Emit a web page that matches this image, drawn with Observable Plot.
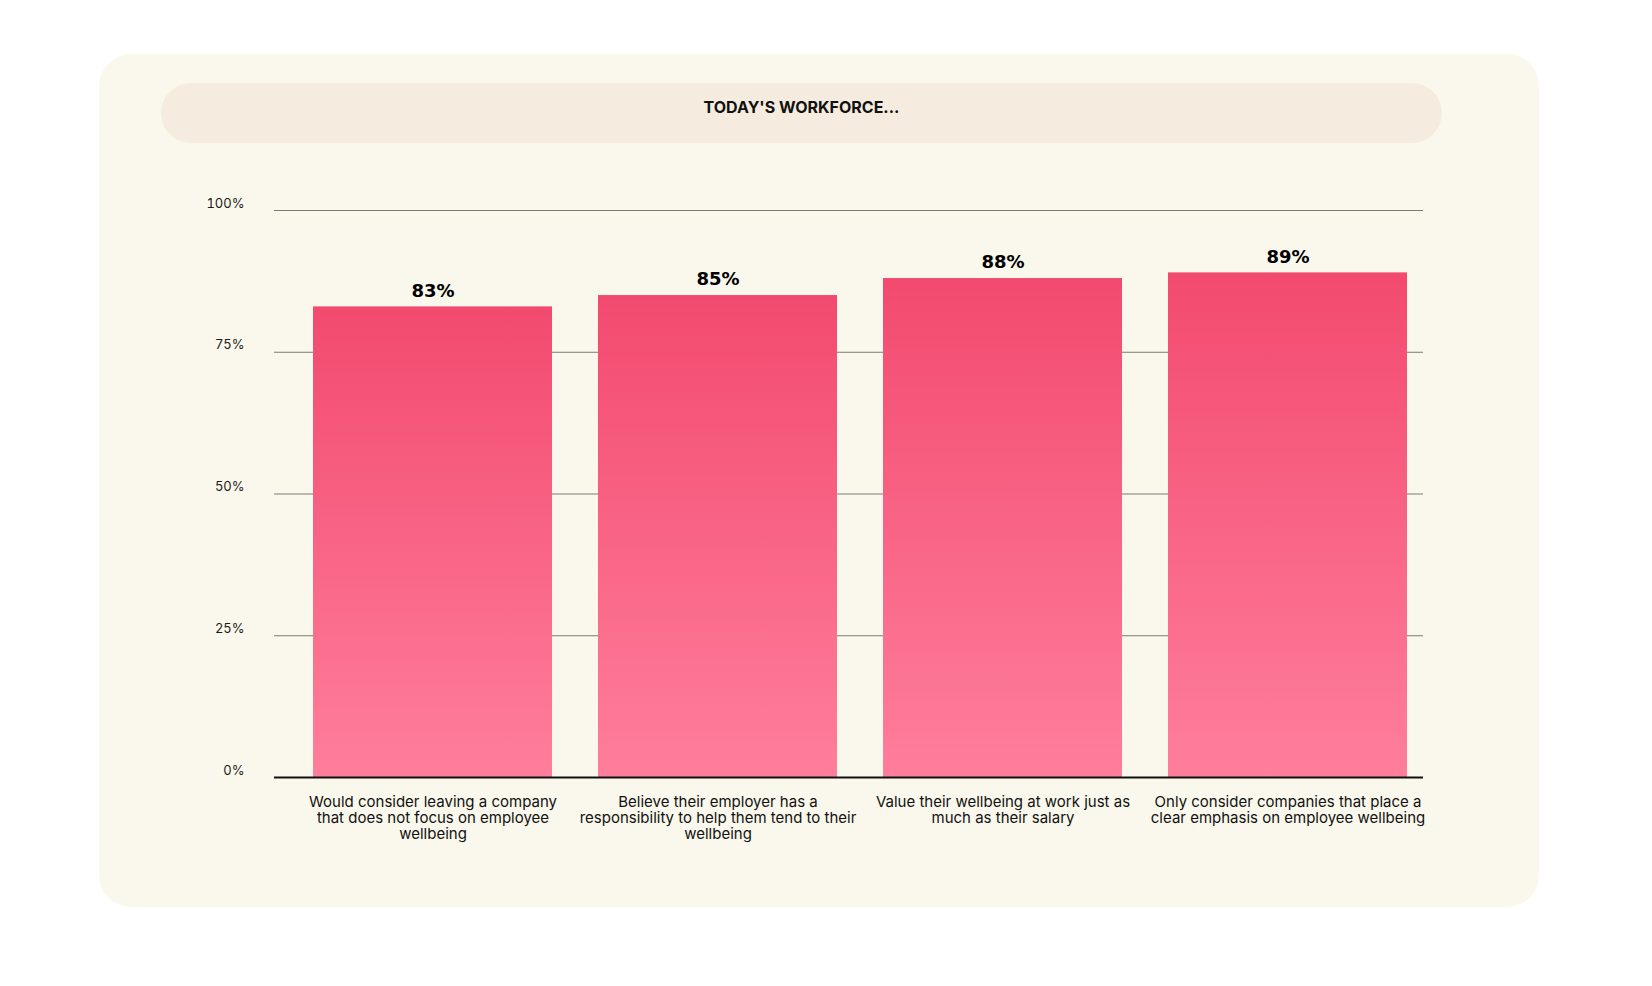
<!DOCTYPE html>
<html><head><meta charset="utf-8">
<script src="https://cdn.jsdelivr.net/npm/d3@7"></script>
<script src="https://cdn.jsdelivr.net/npm/@observablehq/plot@0.6"></script>
<style>
html,body{margin:0;padding:0;background:#fff;}
#wrap{position:relative;width:1652px;height:986px;font-family:Inter,sans-serif;overflow:hidden;}
#card{position:absolute;left:99px;top:54px;width:1440px;height:853px;background:#FAF8EC;border-radius:32px;}
#pill{position:absolute;left:161px;top:83px;width:1281px;height:60px;background:#F5ECDF;border-radius:30px;}
#title{position:absolute;left:161px;width:1281px;top:97px;line-height:20px;text-align:center;font-weight:700;font-size:16px;color:#111;}
#chart{position:absolute;left:0;top:0;}
</style></head>
<body>
<div id="wrap">
  <div id="card"></div>
  <div id="pill"></div>
  <div id="title">TODAY'S WORKFORCE...</div>
  <div id="chart"></div>
</div>
<script>
const categories = [
  "Would consider leaving a company\nthat does not focus on employee\nwellbeing",
  "Believe their employer has a\nresponsibility to help them tend to their\nwellbeing",
  "Value their wellbeing at work just as\nmuch as their salary",
  "Only consider companies that place a\nclear emphasis on employee wellbeing"
];
const values = [83, 85, 88, 89];
const yTicks = [0, 25, 50, 75, 100];
const gridTicks = [25, 50, 75, 100];

const data = categories.map((c, i) => ({cat: c, value: values[i]}));

const W = 1652, H = 986;
const plot = Plot.plot({
  width: W,
  height: H,
  marginTop: 210,
  marginBottom: 209,
  marginLeft: 274,
  marginRight: 229,
  style: {background: "transparent", fontFamily: "Inter, sans-serif"},
  x: {domain: categories, range: [312, 1409], paddingInner: 0.16, paddingOuter: 0, axis: null},
  y: {domain: [0, 100], axis: null},
  marks: [
    Plot.gridY(gridTicks, {stroke: "#7a7a7a", strokeOpacity: 1, strokeWidth: 1}),
    Plot.axisY(yTicks, {tickSize: 0, tickPadding: 30, dy: -7, fontSize: 13, fill: "#1a1a1a", tickFormat: d => d + "%", label: null}),
    Plot.barY(data, {x: "cat", y: "value", fill: "url(#barGrad)"}),
    Plot.ruleY([0], {stroke: "#111", strokeWidth: 2}),
    Plot.text(data, {x: "cat", y: "value", text: d => d.value + "%", dy: -16, fontSize: 18, fontWeight: 700, fontFamily: "DejaVu Sans", fill: "#000"}),
    Plot.text(data, {x: "cat", frameAnchor: "bottom", text: "cat", lineAnchor: "top", dy: 18, fontSize: 15, lineHeight: 1.06, fill: "#111"})
  ]
});

const svg = d3.select(plot);
const grad = svg.insert("defs", ":first-child").append("linearGradient")
  .attr("id", "barGrad").attr("x1", 0).attr("y1", 0).attr("x2", 0).attr("y2", 1);
grad.append("stop").attr("offset", "0%").attr("stop-color", "#F24A6F");
grad.append("stop").attr("offset", "100%").attr("stop-color", "#FF7E9C");

document.getElementById("chart").appendChild(plot);
</script>
</body></html>
